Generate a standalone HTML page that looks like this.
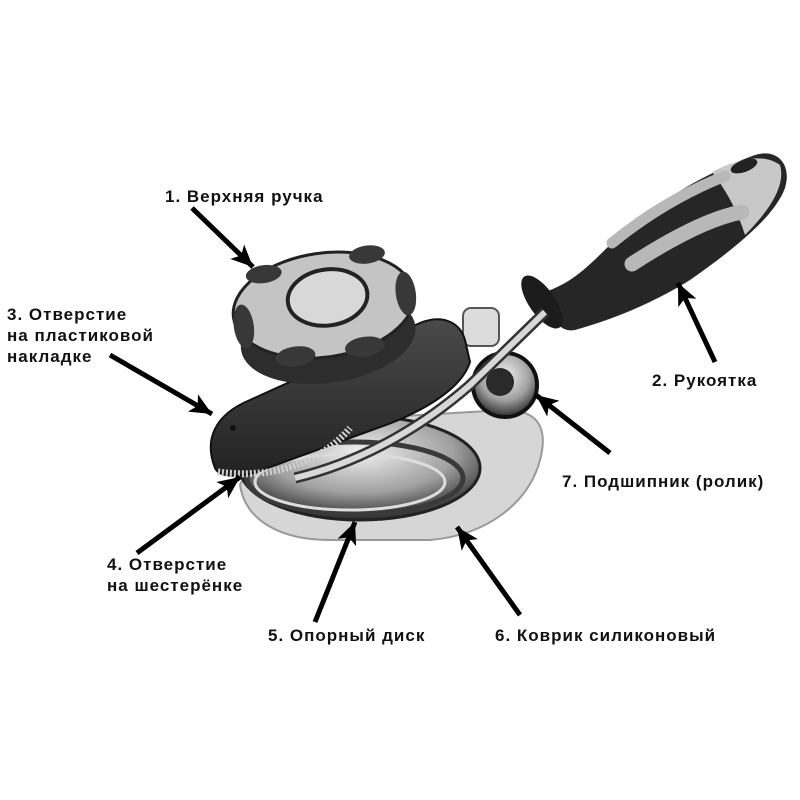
<!DOCTYPE html>
<html><head><meta charset="utf-8"><style>
body{margin:0;background:#fff}
svg{display:block}
text{font-family:"Liberation Sans",Arial,sans-serif;font-weight:bold;font-size:17px;letter-spacing:1px;fill:#111}
</style></head><body>
<svg width="800" height="800" viewBox="0 0 800 800">
<defs>
<marker id="ah" markerWidth="5" markerHeight="5" refX="4.4" refY="2" orient="auto" markerUnits="strokeWidth">
<path d="M0,0 L4.4,2 L0,4 L1.1,2 Z" fill="#000"/></marker>
<radialGradient id="metal" cx="0.5" cy="0.35" r="0.65"><stop offset="0" stop-color="#f0f0f0"/><stop offset="0.6" stop-color="#a0a0a0"/><stop offset="1" stop-color="#2a2a2a"/></radialGradient>
<linearGradient id="blk" x1="0" y1="0" x2="0" y2="1"><stop offset="0" stop-color="#4a4a4a"/><stop offset="1" stop-color="#222"/></linearGradient>
</defs>
<!-- silicone pad -->
<path d="M240,485 C258,440 330,420 420,415 L505,410 C540,410 548,430 540,460 C530,500 490,535 430,540 L330,540 C280,540 245,520 240,485 Z" fill="#d6d6d6" stroke="#999" stroke-width="2"/>
<!-- metal disc -->
<ellipse cx="360" cy="468" rx="120" ry="52" fill="url(#metal)" stroke="#222" stroke-width="3"/>
<ellipse cx="355" cy="478" rx="108" ry="36" fill="none" stroke="#3a3a3a" stroke-width="5"/>
<ellipse cx="350" cy="482" rx="95" ry="28" fill="none" stroke="#ddd" stroke-width="3"/>
<!-- bearing -->
<circle cx="505" cy="385" r="32" fill="url(#metal)" stroke="#111" stroke-width="4"/>
<circle cx="500" cy="382" r="14" fill="#2a2a2a"/>
<!-- post -->
<rect x="463" y="308" width="36" height="38" rx="8" fill="#dcdcdc" stroke="#555" stroke-width="2"/>
<!-- handle -->
<path d="M545,292 C575,282 592,262 612,243 C652,205 700,175 755,155 C778,148 792,165 785,188 C775,215 740,245 690,280 C650,305 610,320 575,330 C560,333 548,318 545,292 Z" fill="#262626"/>
<path d="M712,172 C735,160 762,152 780,165 C786,185 770,210 745,235 C738,212 726,190 712,172 Z" fill="#c8c8c8"/>
<path d="M612,243 C650,212 690,190 725,176" stroke="#b8b8b8" stroke-width="11" stroke-linecap="round" fill="none"/>
<path d="M632,264 C672,238 710,218 742,212" stroke="#b8b8b8" stroke-width="15" stroke-linecap="round" fill="none"/>
<ellipse cx="744" cy="166" rx="14" ry="6" fill="#222" transform="rotate(-20 744 166)"/>
<ellipse cx="542" cy="302" rx="13" ry="31" fill="#1c1c1c" transform="rotate(-35 542 302)"/>
<!-- rod -->
<path d="M295,478 C370,460 430,420 470,385 L545,312" stroke="#333" stroke-width="11" fill="none"/>
<path d="M295,478 C370,460 430,420 470,385 L545,312" stroke="#d8d8d8" stroke-width="6" fill="none"/>
<!-- black plate -->
<path d="M215,468 C204,440 214,415 250,400 L420,323 C442,314 460,322 465,340 L470,362 C462,388 425,412 372,430 L262,470 C240,478 220,478 215,468 Z" fill="url(#blk)" stroke="#111" stroke-width="2"/>
<circle cx="233" cy="428" r="3" fill="#111"/>
<!-- gear -->
<path d="M218,472 C260,478 315,470 350,428" stroke="#d0d0d0" stroke-width="7" stroke-dasharray="2 2" fill="none"/>
<!-- knob -->
<g transform="rotate(-8 325 315)">
<ellipse cx="325" cy="338" rx="88" ry="45" fill="#2d2d2d"/>
<ellipse cx="325" cy="305" rx="91" ry="52" fill="#c4c4c4" stroke="#222" stroke-width="3"/>
<g fill="#383838">
<ellipse cx="243" cy="315" rx="10" ry="22"/><ellipse cx="408" cy="305" rx="10" ry="22"/>
<ellipse cx="290" cy="352" rx="20" ry="10"/><ellipse cx="360" cy="352" rx="20" ry="10"/>
<ellipse cx="270" cy="266" rx="18" ry="9"/><ellipse cx="375" cy="261" rx="18" ry="9"/>
</g>
<ellipse cx="330" cy="298" rx="40" ry="28" fill="#d8d8d8" stroke="#222" stroke-width="4"/>
</g>
<!-- arrows -->
<g stroke="#000" stroke-width="5" marker-end="url(#ah)">
<line x1="192" y1="208" x2="253" y2="267"/>
<line x1="715" y1="362" x2="678" y2="283"/>
<line x1="110" y1="355" x2="212" y2="414"/>
<line x1="137" y1="553" x2="240" y2="477"/>
<line x1="315" y1="622" x2="355" y2="522"/>
<line x1="520" y1="615" x2="457" y2="527"/>
<line x1="610" y1="453" x2="536" y2="395"/>
</g>
<text x="165" y="202">1. Верхняя ручка</text>
<text x="652" y="386">2. Рукоятка</text>
<text x="7" y="320">3. Отверстие</text>
<text x="7" y="341">на пластиковой</text>
<text x="7" y="362">накладке</text>
<text x="107" y="570">4. Отверстие</text>
<text x="107" y="591">на шестерёнке</text>
<text x="268" y="641">5. Опорный диск</text>
<text x="495" y="641">6. Коврик силиконовый</text>
<text x="562" y="487">7. Подшипник (ролик)</text>
</svg>
</body></html>
